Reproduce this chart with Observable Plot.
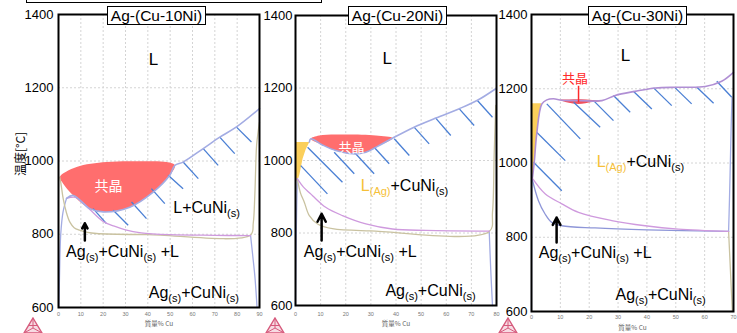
<!DOCTYPE html>
<html><head><meta charset="utf-8">
<script src="https://cdn.jsdelivr.net/npm/d3@7"></script>
<script src="https://cdn.jsdelivr.net/npm/@observablehq/plot@0.6"></script>
<style>
body{margin:0;background:#fff;}
#wrap{position:relative;width:737px;height:333px;overflow:hidden;font-family:"Liberation Sans",Arial,sans-serif;background:#fff;}
.panel{position:absolute;top:0;}
.tbox{position:absolute;top:6px;height:17px;width:97px;border:1.5px solid #000;background:#fff;font-size:15.5px;line-height:18px;text-align:center;white-space:nowrap;}
.topbox{position:absolute;left:26px;top:-20px;width:294px;height:21px;border:1.5px solid #000;}
.ylab{position:absolute;left:19px;top:154px;transform:translate(-50%,-50%) rotate(-90deg);font-size:12px;white-space:nowrap;font-family:"Noto Sans CJK JP","Liberation Sans",sans-serif;}
.logo{position:absolute;top:317px;}
svg text{white-space:pre;}
</style></head>
<body><div id="wrap"></div>
<script>
// ---- data ----
const panelTitles = ["Ag-(Cu-10Ni)", "Ag-(Cu-20Ni)", "Ag-(Cu-30Ni)"];
const cuMax = [90, 80, 70];
const tempTicks = [600, 800, 1000, 1200, 1400];
const tempGrid = [800, 1000, 1200];
const xLabel = "質量% Cu";
const yLabel = "温度[°C]";
const eutecticText = "共晶";

// Panel 1: Ag-(Cu-10Ni)
const p1Eutectic = [[0.6,956],[8.1,983.5],[21.5,997],[36.4,999],[48.4,997],[52.1,988],[49.8,961],[42.4,915],[31.9,874],[20,861],[14,870],[6.6,906],[2.1,938]];
const p1Liquidus = [[3.6,898],[6.6,906],[14,870],[20,861],[31.9,874],[42.4,915],[49.8,961],[52.1,988],[55.8,997],[64.8,1034],[72.2,1065],[79.7,1093],[90,1143]];
const p1Solvus = [[0.6,956],[1.3,930],[2.1,897],[3.5,860],[5.1,833],[7,818],[9.5,811],[13,805],[17,802],[40,799],[86,798],[87.2,830],[87.9,906],[88.7,1043],[89.4,1080],[90,1106]];
const p1Purple = [[3.6,898],[7.6,901],[11,885],[14.3,866],[20,835],[25,822],[30,812],[37,804],[50,799],[70,797],[86,796]];
const p1LeftEdge = [[0.2,600],[0.5,700],[1,800],[2,860],[3.6,898]];
const p1RightEdge = [[86,797],[87,740],[88,680],[88.9,600]];
const p1Hatch = [[79.7,1092.6,86.4,1051.7],[72.2,1065.3,78.9,1020],[64.8,1033.7,71.5,988.1],[55.8,997.1,62.6,951.8],[49.1,960.8,55.8,924.5],[41.6,924.5,47.6,883.6],[32.7,888,39.4,842.7],[24.5,865.4,31.2,824.4],[15.5,870,21.5,829]];
const p1Labels = [[51.4,871,"L+CuNi|~(s)"],[3.4,752,"Ag|~(s)|+CuNi|~(s)| +L"],[40.4,641,"Ag|~(s)|+CuNi|~(s)"]];
const p1L = [42.5, 1276];
const p1EuLabel = [22.4, 929];
const p1Arrow = [11.8, 783, 11.8, 830];

// Panel 2: Ag-(Cu-20Ni)
const p2Eutectic = [[6.1,1060],[9.4,1069],[18.7,1071.7],[32,1069],[38.6,1061.6],[33.3,1041.4],[28,1022.9],[22.7,1018.5],[16,1027.6],[10.7,1043]];
const p2Yellow = [[0,1051],[5.5,1051],[4,1030],[2.8,1005],[1.5,960],[0.8,945],[0,945]];
const p2Liquidus = [[5.5,1051],[6.1,1060],[10.7,1043],[16,1027.6],[22.7,1018.5],[28,1022.9],[33.3,1041.4],[38.6,1061.6],[47.2,1092],[55.8,1117],[65.2,1143],[72.4,1166],[79.7,1198]];
const p2Solvus = [[0.7,950],[2,910],[3.5,885],[5.5,848],[8.8,825],[14.7,812],[30,806],[77.1,804],[78.4,857],[79.1,1023],[79.7,1152]];
const p2Purple = [[0.7,950],[3,928],[6.8,903],[12,871],[18.7,848],[28,825],[38.6,811],[51.9,807],[77.1,805]];
const p2LeftEdge = [[0,600],[0.3,800],[0.7,950]];
const p2RightEdge = [[77.1,805],[77.7,700],[78.4,600]];
const p2Hatch = [[72.4,1165.5,78.4,1119.4],[65.2,1142.6,71.1,1096.6],[55.8,1116.7,61.8,1069],[47.2,1091.9,53.2,1046],[39.3,1059.9,45.3,1013.8],[31.3,1036.7,37.3,990.9],[23.4,1022.9,31.3,963.3],[15.4,1022.9,23.4,963.3],[4.8,1036.7,18.7,940],[2.1,986,12.7,908]];
const p2Labels = [[26,931,"!L|!~(Ag)|+CuNi|~(s)"],[3.3,747,"Ag|~(s)|+CuNi|~(s)| +L"],[35.8,639,"Ag|~(s)|+CuNi|~(s)"]];
const p2L = [36.5, 1282];
const p2EuLabel = [22.3, 1036];
const p2Arrow = [10.4, 779, 10.4, 853];

// Panel 3: Ag-(Cu-30Ni)
const p3Eutectic = [[10,1170],[13,1171],[17,1171.5],[21,1170],[24.4,1168],[21,1164],[16.3,1159],[12.5,1163]];
const p3Yellow = [[0,1161],[3.4,1161],[2.5,1120],[1.8,1078],[1,1006],[0.4,960],[0,950]];
const p3Liquidus = [[0.35,961],[1,1006],[1.8,1078],[3.6,1159],[5.3,1170],[7.6,1173],[10.5,1169],[17,1168],[24.4,1168],[29,1182],[35.9,1193],[42.9,1202],[50.9,1204],[60.2,1206],[65.9,1220],[70,1244]];
const p3Purple = [[0.1,961],[4.7,917],[10.5,890],[16.3,867],[27.8,845],[39.4,831],[50.9,822],[68.3,816]];
const p3Solidus = [[0.1,961],[2.4,898.5],[4.7,862.6],[7,840],[10.5,831],[22,825],[40,820],[68.3,816]];
const p3RightEdge = [[68.3,816],[68.6,900],[68.9,1000],[69.2,1100],[69.5,1177]];
const p3RightTan = [[68.3,816],[69,700],[69.6,600]];
const p3LeftEdge = [[0,600],[0.05,800],[0.1,961]];
const p3Hatch = [[64.2,1220.2,69.4,1177],[57.3,1204,63.1,1160.8],[49.8,1202.4,55.5,1159.2],[42.3,1202.4,48.6,1154.6],[35.3,1193.2,41.7,1145.7],[28.4,1181.6,34.2,1136.6],[21.5,1168,28.4,1114.2],[14.6,1163.5,23.8,1096.1],[5.3,1159.2,16.9,1064.9],[1.8,1082.6,11.7,1006.3],[0.7,1001.8,10.5,925.4]];
const p3Labels = [[22.6,1002,"!L|!~(Ag)|+CuNi|~(s)"],[2.5,758,"Ag|~(s)|+CuNi|~(s)| +L"],[29.1,645,"Ag|~(s)|+CuNi|~(s)"]];
const p3L = [32.6, 1290];
const p3EuLabel = [15.1, 1228];
const p3EuPointer = [16.3, 1208, 16.3, 1164];
const p3Arrow = [8.7, 786, 8.7, 853];

// ---- styles ----
const C = {liq:"#a3ace3", purple:"#cf9ade", tan:"#c9c2a0", indigo:"#8e96d8", hatch:"#4a7fd4", yellow:"#fbcf5b", hl:"#f6bf38"};

const panels = [
  {i:0, left:0, width:262, mL:58, mR:3, mT:14, mB:26, xPad:5, xDy:18, yPad:5,
   yellow:null, blob:p1Eutectic, blobColor:"#ff6e6e", hatch:p1Hatch,
   lines:[[p1LeftEdge,C.liq,1.3],[p1RightEdge,C.liq,1.3],[p1Solvus,C.tan,1.3],[p1Purple,C.purple,1.3],[p1Liquidus,C.liq,1.6]],
   labels:p1Labels, L:p1L, eu:p1EuLabel, euColor:"white", euSize:14, arrow:p1Arrow},
  {i:1, left:262, width:236, mL:33, mR:2, mT:15, mB:28, xPad:7, xDy:20, yPad:3,
   yellow:p2Yellow, blob:p2Eutectic, blobColor:"#ff6e6e", hatch:p2Hatch,
   lines:[[p2LeftEdge,C.liq,1.3],[p2RightEdge,C.liq,1.3],[p2Solvus,C.tan,1.3],[p2Purple,C.purple,1.3],[p2Liquidus,C.liq,1.6]],
   labels:p2Labels, L:p2L, eu:p2EuLabel, euColor:"white", euSize:13, arrow:p2Arrow},
  {i:2, left:498, width:239, mL:33, mR:4, mT:14, mB:22, xPad:4, xDy:18, yPad:4,
   yellow:p3Yellow, blob:p3Eutectic, blobColor:"#f2505c", hatch:p3Hatch,
   lines:[[p3LeftEdge,C.liq,1.3],[p3RightEdge,C.liq,1.3],[p3RightTan,C.tan,1.3],[p3Solidus,C.indigo,1.3],[p3Purple,C.purple,1.3],[p3Liquidus,"#b08fd4",1.6]],
   labels:p3Labels, L:p3L, eu:p3EuLabel, euColor:"#ff2a2a", euSize:13, arrow:p3Arrow, pointer:p3EuPointer}
];

function richify(svg){
  svg.querySelectorAll("text").forEach(t=>{
    const s=t.textContent;
    if(!s.includes("|")) return;
    const segs=s.split("|");
    while(t.firstChild) t.removeChild(t.firstChild);
    let inSub=false;
    for(const seg of segs){
      let str=seg, sub=false, hl=false;
      while(str[0]==="~"||str[0]==="!"){ if(str[0]==="~") sub=true; else hl=true; str=str.slice(1); }
      const ts=document.createElementNS("http://www.w3.org/2000/svg","tspan");
      ts.textContent=str;
      if(sub&&!inSub) ts.setAttribute("dy","4");
      if(!sub&&inSub) ts.setAttribute("dy","-4");
      if(sub) ts.setAttribute("font-size","11");
      if(hl) ts.setAttribute("fill",C.hl);
      inSub=sub;
      t.appendChild(ts);
    }
  });
}

const wrap=document.getElementById("wrap");
const X=d=>d[0], Y=d=>d[1];
for(const p of panels){
  const max=cuMax[p.i];
  const marks=[
    Plot.gridX(d3.range(10,max,10),{stroke:"#d4d4d4",strokeOpacity:1,strokeDasharray:"2,2"}),
    Plot.gridY(tempGrid,{stroke:"#d4d4d4",strokeOpacity:1,strokeDasharray:"2,2"})
  ];
  if(p.yellow) marks.push(Plot.line(p.yellow,{x:X,y:Y,fill:C.yellow,stroke:"none",curve:"linear-closed"}));
  marks.push(Plot.line(p.blob,{x:X,y:Y,fill:p.blobColor,stroke:"none",curve:"catmull-rom-closed"}));
  marks.push(Plot.link(p.hatch,{x1:d=>d[0],y1:d=>d[1],x2:d=>d[2],y2:d=>d[3],stroke:C.hatch,strokeWidth:1.3}));
  for(const [data,color,w] of p.lines) marks.push(Plot.line(data,{x:X,y:Y,stroke:color,strokeWidth:w,curve:"catmull-rom"}));
  if(p.pointer) marks.push(Plot.link([p.pointer],{x1:d=>d[0],y1:d=>d[1],x2:d=>d[2],y2:d=>d[3],stroke:"#ff2a2a",strokeWidth:1.5}));
  marks.push(Plot.text([p.L],{x:X,y:Y,text:()=>"L",fontSize:17,fill:"black"}));
  marks.push(Plot.text([p.eu],{x:X,y:Y,text:()=>eutecticText,fontSize:p.euSize,fill:p.euColor,fontFamily:"Noto Sans CJK JP, sans-serif"}));
  marks.push(Plot.text(p.labels,{x:X,y:Y,text:d=>d[2],textAnchor:"start",fontSize:16,fill:"black"}));
  marks.push(Plot.arrow([p.arrow],{x1:d=>d[0],y1:d=>d[1],x2:d=>d[2],y2:d=>d[3],stroke:"black",strokeWidth:2.5,headLength:9,headAngle:55}));
  marks.push(Plot.frame({stroke:"black",strokeWidth:2}));
  marks.push(Plot.axisY(tempTicks,{tickSize:0,tickPadding:p.yPad,fontSize:13,label:null,tickFormat:d=>String(d)}));
  marks.push(Plot.axisX(d3.range(0,max+1,10),{tickSize:0,tickPadding:p.xPad,fontSize:5.5,fill:"#777",label:null,tickFormat:d=>String(d)}));
  marks.push(Plot.text([xLabel],{frameAnchor:"bottom",dy:p.xDy,fontSize:6.5,fill:"#666",fontFamily:"Noto Sans CJK JP, sans-serif"}));
  const svg=Plot.plot({
    width:p.width,height:333,marginLeft:p.mL,marginRight:p.mR,marginTop:p.mT,marginBottom:p.mB,
    x:{domain:[0,max]},y:{domain:[600,1400]},
    style:{fontFamily:"Liberation Sans, Arial, sans-serif",background:"none",overflow:"visible"},
    marks
  });
  richify(svg);
  svg.classList.add("panel");
  svg.style.left=p.left+"px";
  svg.style.position="absolute";
  wrap.appendChild(svg);
}

// title boxes and extras
const boxLefts=[107,348,588];
panelTitles.forEach((t,i)=>{
  const d=document.createElement("div");
  d.className="tbox"; d.style.left=boxLefts[i]+"px"; d.textContent=t;
  wrap.appendChild(d);
});
const tb=document.createElement("div"); tb.className="topbox"; wrap.appendChild(tb);
const yl=document.createElement("div"); yl.className="ylab"; yl.textContent=yLabel; wrap.appendChild(yl);
const logoLefts=[23,265,498];
logoLefts.forEach(l=>{
  const d=document.createElement("div"); d.className="logo"; d.style.left=l+"px";
  d.innerHTML='<svg width="20" height="17" viewBox="0 0 20 17"><polygon points="10,1 19,16 1,16" fill="#f7dbe3" stroke="#d65a7c" stroke-width="1.4"/><path d="M10,1L10,11M1,16L10,11M19,16L10,11M5.5,8.5L14.5,8.5" stroke="#d65a7c" stroke-width="1" fill="none"/></svg>';
  wrap.appendChild(d);
});
</script></body></html>
